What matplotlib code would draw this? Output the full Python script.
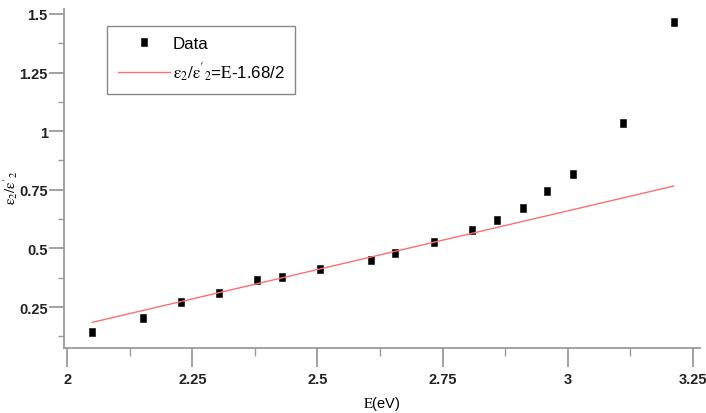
import matplotlib
matplotlib.use("Agg")
import matplotlib.pyplot as plt
from matplotlib.ticker import MultipleLocator

# data
energy = [2.05, 2.152, 2.227, 2.304, 2.379, 2.43, 2.505, 2.607, 2.656,
          2.732, 2.809, 2.859, 2.91, 2.959, 3.01, 3.111, 3.212]
ratio = [0.144, 0.204, 0.273, 0.311, 0.364, 0.380, 0.414, 0.451, 0.480,
         0.529, 0.578, 0.620, 0.674, 0.743, 0.818, 1.034, 1.464]

# linear fit  eps2/eps'2 = (E - 1.68)/2, drawn between its end points
fit_x = [2.05, 3.212]
fit_y = [0.185, 0.766]

x_ticks = [2, 2.25, 2.5, 2.75, 3, 3.25]
x_labels = ["2", "2.25", "2.5", "2.75", "3", "3.25"]
y_ticks = [0.25, 0.5, 0.75, 1, 1.25, 1.5]
y_labels = ["0.25", "0.5", "0.75", "1", "1.25", "1.5"]

plt.rcParams["mathtext.fontset"] = "stix"
tick_font = dict(family=["Liberation Sans Narrow", "Liberation Sans"],
                 weight="bold", size=10.5, color="#222222")

fig = plt.figure(figsize=(7.06, 4.14), dpi=100)
ax = fig.add_axes([0.0907, 0.157, 0.901, 0.819])

# tall black rectangles
rect = [(-0.36, -0.5), (0.36, -0.5), (0.36, 0.5), (-0.36, 0.5), (-0.36, -0.5)]
ax.plot(energy, ratio, linestyle="none", marker=rect, markersize=6.3,
        markeredgewidth=0.4, color="black", label="Data")
ax.plot(fit_x, fit_y, color="#ff6e6e", linewidth=1.0,
        label=r"$\mathrm{\varepsilon_2/\varepsilon'_2}$=$\mathrm{E}$-1.68/2")

ax.set_xlim(1.9934, 3.265)
ax.set_ylim(0.0756, 1.521)

ax.set_xticks(x_ticks)
ax.set_xticklabels(x_labels, fontdict=tick_font)
ax.set_yticks(y_ticks)
ax.set_yticklabels(y_labels, fontdict=tick_font)
ax.xaxis.set_minor_locator(MultipleLocator(0.125))
ax.yaxis.set_minor_locator(MultipleLocator(0.125))

ax.spines["top"].set_visible(False)
ax.spines["right"].set_visible(False)
for s in ("left", "bottom"):
    ax.spines[s].set_color("#9a9a9a")
    ax.spines[s].set_linewidth(1.3)

ax.tick_params(axis="x", which="major", length=13.5, width=1.3,
               color="#9a9a9a", pad=3.5)
ax.tick_params(axis="x", which="minor", length=6, width=1.0, color="#9a9a9a")
ax.tick_params(axis="y", which="major", length=10.8, width=1.3,
               color="#9a9a9a", pad=1)
ax.tick_params(axis="y", which="minor", length=4.3, width=1.0, color="#9a9a9a")

ax.set_xlabel(r"$\mathrm{E}$(eV)", fontsize=10.5,
              family=["Liberation Sans Narrow", "Liberation Sans"])
ax.xaxis.set_label_coords(0.5, -0.135)
ax.set_ylabel(r"$\mathrm{\varepsilon_2/\varepsilon'_2}$", fontsize=10.5)
ax.yaxis.set_label_coords(-0.069, 0.476)

leg = ax.legend(loc="upper left", bbox_to_anchor=(0.0676, 0.950),
                borderaxespad=0, fancybox=False, framealpha=1,
                edgecolor="#888888", handlelength=3.1, handletextpad=0.15,
                labelspacing=0.55, borderpad=0.62, markerscale=1.0,
                prop=dict(family="Liberation Sans", size=12.2))
leg.get_frame().set_linewidth(1.0)

fig.savefig("out.png", dpi=100)
plt.close(fig)
